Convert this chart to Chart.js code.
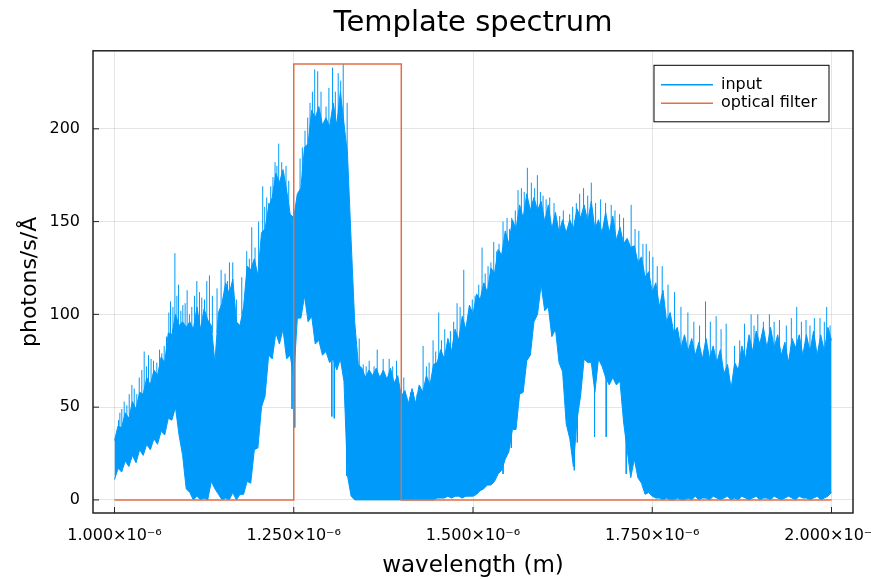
<!DOCTYPE html>
<html lang="en">
<head>
<meta charset="UTF-8">
<title>Template spectrum</title>
<script src="https://cdn.jsdelivr.net/npm/chart.js"></script>
<style>
  html, body { margin: 0; padding: 0; background: #fff; }
  canvas { display: block; }
</style>
</head>
<body>
<canvas id="spectrumChart" width="871" height="579"></canvas>
<script>
// wavelength grid of the spectrum, in units of 1e-6 m
const waveStart = 1.0;
const waveStep = 0.005;

// dense body of the noisy input spectrum: top and bottom edge (photons/s/Å)
const inputUpper = [
  32, 40, 39, 47, 44, 53, 49, 58, 57, 66,
  62, 70, 67, 77, 74, 90, 89, 100, 94, 96,
  93, 96, 92, 104, 92, 103, 97, 94, 74, 101,
  106, 117, 111, 119, 96, 94, 104, 126, 124, 130,
  121, 144, 146, 158, 163, 176, 171, 178, 167, 154,
  152, 165, 168, 190, 192, 210, 206, 212, 202, 206,
  201, 214, 202, 220, 203, 186, 140, 96, 73, 71,
  66, 70, 67, 71, 66, 70, 65, 71, 63, 67,
  56, 59, 52, 60, 52, 62, 58, 67, 62, 73,
  74, 81, 76, 87, 80, 92, 86, 99, 92, 105,
  100, 111, 108, 117, 112, 125, 122, 135, 132, 145,
  138, 151, 146, 159, 152, 165, 156, 163, 156, 161,
  150, 159, 146, 155, 144, 151, 144, 151, 146, 157,
  152, 159, 150, 161, 146, 151, 144, 155, 144, 153,
  140, 147, 138, 141, 136, 137, 128, 131, 120, 123,
  112, 117, 104, 113, 96, 101, 90, 93, 82, 89,
  80, 87, 78, 85, 76, 87, 76, 83, 74, 81,
  68, 73, 60, 74, 70, 83, 76, 89, 80, 91,
  84, 93, 82, 93, 82, 89, 78, 85, 74, 87,
  82, 89, 78, 89, 80, 91, 78, 89, 80, 93,
  86
];
const inputLower = [
  11, 17, 15, 21, 18, 24, 20, 27, 24, 30,
  27, 33, 30, 37, 35, 44, 43, 50, 35, 24,
  6, 4, 0, 2, 0, 1, 0, 10, 6, 3,
  0, 1, 0, 4, 0, 3, 3, 10, 9, 27,
  28, 50, 56, 78, 76, 90, 84, 92, 76, 78,
  66, 98, 98, 110, 96, 99, 84, 86, 78, 80,
  74, 76, 70, 76, 64, 13, 2, 0, 0, 0,
  0, 0, 0, 0, 0, 0, 0, 0, 0, 0,
  0, 0, 0, 0, 0, 0, 0, 0, 0, 0,
  1, 1, 1, 2, 1, 2, 2, 1, 2, 2,
  2, 3, 5, 6, 8, 8, 10, 14, 16, 22,
  26, 38, 38, 57, 58, 75, 78, 96, 100, 116,
  102, 104, 88, 92, 74, 69, 41, 33, 18, 43,
  56, 76, 74, 74, 58, 76, 72, 66, 62, 66,
  62, 64, 42, 27, 12, 22, 12, 9, 3, 4,
  2, 1, 1, 0, 1, 0, 0, 1, 0, 0,
  1, 0, 2, 0, 1, 1, 0, 2, 1, 0,
  1, 2, 0, 1, 0, 2, 1, 0, 1, 2,
  0, 1, 1, 0, 2, 1, 0, 1, 2, 1,
  0, 2, 1, 1, 0, 1, 2, 0, 1, 2,
  4
];

// narrow spikes of the input that stick out of the body: wavelength, start, end
const spikeWave = [
  1.0056, 1.0102, 1.0172, 1.0242, 1.0311, 1.0381, 1.0414, 1.0474, 1.0544, 1.0628,
  1.0693, 1.0758, 1.0781, 1.0842, 1.0893, 1.0953, 1.1013, 1.1078, 1.1148, 1.1217,
  1.1287, 1.1324, 1.1487, 1.1542, 1.1603, 1.1649, 1.1844, 1.1914, 1.1960, 1.2067,
  1.2123, 1.2179, 1.2239, 1.2290, 1.2332, 1.2392, 1.2588, 1.2657, 1.2727, 1.2792,
  1.2834, 1.2950, 1.3041, 1.3120, 1.3190, 1.3245, 1.3413, 1.3469, 1.3552, 1.3664,
  1.3747, 1.3831, 1.3933, 1.4035, 1.4128, 1.4220, 1.4304, 1.4388, 1.4443, 1.4522,
  1.4606, 1.4685, 1.4778, 1.4871, 1.4945, 1.5029, 1.5126, 1.5210, 1.5289, 1.5363,
  1.5419, 1.5475, 1.5540, 1.5628, 1.5675, 1.5758, 1.5814, 1.5898, 1.5977, 1.6070,
  1.6209, 1.6348, 1.6441, 1.6488, 1.6542, 1.6650, 1.6710, 1.6849, 1.6928, 1.7044,
  1.7206, 1.7313, 1.7416, 1.7509, 1.7639, 1.7811, 1.7997, 1.8243, 1.8391, 1.8531,
  1.8647, 1.8786, 1.8879, 1.8972, 1.9134, 1.9274, 1.9515, 1.9645, 1.9761, 1.9933,
  1.9980,
  1.0075, 1.0135, 1.0205, 1.0275, 1.0345, 1.0445, 1.0510, 1.0590, 1.0660, 1.0725,
  1.0815, 1.0870, 1.0925, 1.0985, 1.1045, 1.1115, 1.1185, 1.1255, 1.1365, 1.1430,
  1.1575, 1.1700, 1.1775, 1.1880, 1.2010, 1.2095, 1.2150, 1.2210, 1.2265, 1.2360,
  1.2430, 1.2620, 1.2695, 1.2760, 1.2880, 1.2990, 1.3080, 1.3155, 1.3510, 1.3620,
  1.3880, 1.4170, 1.4350, 1.4480, 1.4560, 1.4730, 1.4820, 1.4990, 1.5080, 1.5170,
  1.5250, 1.5330, 1.5510, 1.5590, 1.5715, 1.5860, 1.5940, 1.6020, 1.6130, 1.6260,
  1.6390, 1.6600, 1.6780, 1.6980, 1.7100, 1.7260, 1.7370, 1.7460, 1.7570, 1.7720,
  1.7900, 1.8080, 1.8160, 1.8310, 1.8460, 1.8720, 1.8920, 1.9050, 1.9200, 1.9370,
  1.9440, 1.9580, 1.9700, 1.9840, 1.9900,
  1.2476, 1.2514, 1.3031, 1.3065, 1.3236, 1.5419, 1.5535, 1.6367, 1.6413, 1.6455,
  1.6695, 1.6858, 1.7137
];
const spikeFrom = [
  36, 38, 42, 44, 48, 52, 54, 58, 60, 64,
  66, 76, 80, 86, 88, 86, 86, 86, 90, 88,
  90, 90, 100, 104, 104, 104, 112, 118, 118, 130,
  140, 142, 150, 156, 156, 154, 150, 170, 180, 195,
  195, 195, 195, 195, 195, 185, 66, 62, 62, 60,
  60, 60, 60, 55, 50, 50, 55, 58, 60, 66,
  72, 76, 80, 84, 88, 94, 100, 104, 110, 114,
  120, 124, 130, 140, 142, 146, 150, 150, 148, 148,
  142, 140, 140, 142, 144, 146, 146, 140, 140, 136,
  130, 120, 116, 110, 102, 88, 78, 72, 72, 66,
  60, 68, 72, 74, 74, 74, 74, 74, 74, 74,
  74,
  40, 42, 46, 50, 54, 60, 62, 64, 68, 74,
  86, 90, 88, 88, 86, 90, 90, 92, 90, 90,
  106, 92, 100, 118, 126, 140, 146, 152, 160, 160,
  150, 172, 186, 196, 200, 200, 200, 200, 62, 60,
  60, 50, 58, 62, 70, 80, 84, 92, 98, 104,
  108, 114, 126, 136, 144, 150, 150, 148, 146, 140,
  140, 146, 146, 140, 134, 126, 118, 114, 106, 96,
  84, 76, 74, 72, 70, 64, 72, 74, 74, 74,
  74, 74, 74, 74, 74,
  90, 100, 90, 90, 80, 40, 45, 70, 60, 60,
  70, 70, 50
];
const spikeTo = [
  43, 49, 51, 62, 57, 70, 80, 78, 75, 81,
  83, 101, 107, 133, 116, 105, 113, 104, 118, 109,
  118, 121, 124, 122, 128, 128, 134, 147, 136, 169,
  163, 169, 182, 192, 182, 180, 184, 199, 214, 232,
  231, 212, 233, 230, 235, 214, 87, 73, 75, 81,
  76, 76, 75, 66, 58, 57, 83, 74, 86, 101,
  92, 91, 106, 124, 95, 110, 136, 126, 139, 138,
  150, 152, 152, 167, 168, 179, 171, 175, 164, 163,
  153, 154, 160, 165, 168, 171, 160, 160, 159, 154,
  159, 145, 138, 131, 126, 112, 101, 107, 99, 95,
  83, 95, 100, 100, 100, 97, 104, 97, 98, 104,
  94,
  47, 53, 57, 60, 66, 72, 76, 74, 79, 88,
  104, 110, 102, 106, 100, 110, 112, 108, 110, 114,
  118, 108, 120, 130, 150, 158, 160, 174, 180, 176,
  172, 190, 206, 220, 220, 222, 220, 226, 72, 72,
  72, 58, 72, 80, 86, 96, 104, 108, 116, 122,
  128, 134, 146, 156, 166, 168, 166, 162, 160, 156,
  158, 164, 162, 156, 152, 146, 138, 134, 126, 116,
  104, 96, 94, 96, 92, 86, 94, 96, 96, 94,
  98, 96, 94, 98, 96,
  49, 39, 45, 44, 13, 14, 28, 32, 16, 31,
  34, 34, 14
];

// top-hat optical filter
const filterWave = [1.0, 1.25, 1.25, 1.4, 1.4, 2.0];
const filterValue = [0, 0, 235, 235, 0, 0];

const xTicks = [1.0, 1.25, 1.5, 1.75, 2.0];
const yTicks = [0, 50, 100, 150, 200];

const blue = '#009AFA';
const orange = '#E36F47';
const fontFamily = '"DejaVu Sans", sans-serif';

const wavelength = inputUpper.map((_, i) => +(waveStart + i * waveStep).toFixed(3));

// each spike is its own short segment, separated by a gap
const spikePoints = spikeWave.flatMap((x, i) => [
    { x, y: spikeFrom[i] },
    { x, y: spikeTo[i] },
    { x, y: null }
]);

// box around the plot, inward tick marks and the legend inside the plot
const framePlugin = {
    id: 'frame',
    afterDatasetsDraw(chart) {
        const { ctx, chartArea: a, scales } = chart;
        ctx.save();
        ctx.strokeStyle = '#222';
        ctx.lineWidth = 1.5;
        ctx.strokeRect(a.left, a.top, a.right - a.left, a.bottom - a.top);

        ctx.lineWidth = 1;
        ctx.beginPath();
        xTicks.forEach(v => {
            const x = scales.x.getPixelForValue(v);
            ctx.moveTo(x, a.bottom);
            ctx.lineTo(x, a.bottom - 6);
        });
        yTicks.forEach(v => {
            const y = scales.y.getPixelForValue(v);
            ctx.moveTo(a.left, y);
            ctx.lineTo(a.left + 6, y);
        });
        ctx.stroke();

        const items = chart.data.datasets.filter(d => d.label);
        ctx.font = '16px ' + fontFamily;
        const textW = Math.max(...items.map(d => ctx.measureText(d.label).width));
        const w = 7 + 52 + 8 + textW + 12;
        const h = 56.5;
        const x0 = a.right - 24 - w;
        const y0 = a.top + 14.5;
        ctx.fillStyle = '#fff';
        ctx.fillRect(x0, y0, w, h);
        ctx.strokeStyle = '#000';
        ctx.lineWidth = 1;
        ctx.strokeRect(x0, y0, w, h);
        items.forEach((d, k) => {
            const y = y0 + 19.5 + k * 18.4;
            ctx.strokeStyle = d.borderColor;
            ctx.lineWidth = 1.5;
            ctx.beginPath();
            ctx.moveTo(x0 + 7, y);
            ctx.lineTo(x0 + 59, y);
            ctx.stroke();
            ctx.fillStyle = '#000';
            ctx.textBaseline = 'middle';
            ctx.textAlign = 'left';
            ctx.fillText(d.label, x0 + 67, y);
        });
        ctx.restore();
    }
};

new Chart(document.getElementById('spectrumChart'), {
    type: 'line',
    data: {
        datasets: [
            {
                label: 'input',
                data: wavelength.map((x, i) => ({ x, y: inputUpper[i] })),
                borderColor: blue,
                backgroundColor: blue,
                borderWidth: 1,
                pointRadius: 0,
                fill: '+1',
                order: 2
            },
            {
                data: wavelength.map((x, i) => ({ x, y: inputLower[i] })),
                borderColor: blue,
                borderWidth: 1,
                pointRadius: 0,
                fill: false,
                order: 3
            },
            {
                data: spikePoints,
                borderColor: blue,
                borderWidth: 1,
                pointRadius: 0,
                fill: false,
                spanGaps: false,
                order: 2
            },
            {
                label: 'optical filter',
                data: filterWave.map((x, i) => ({ x, y: filterValue[i] })),
                borderColor: orange,
                borderWidth: 1.5,
                pointRadius: 0,
                fill: false,
                order: 1
            }
        ]
    },
    options: {
        responsive: false,
        animation: false,
        layout: { padding: { left: 0, right: 18, top: 0, bottom: 0 } },
        plugins: {
            legend: { display: false },
            tooltip: { enabled: false },
            title: {
                display: true,
                text: 'Template spectrum',
                fullSize: false,
                color: '#000',
                font: { family: fontFamily, size: 29, weight: 'normal' },
                padding: { top: 6.5, bottom: 9.5 }
            }
        },
        scales: {
            x: {
                type: 'linear',
                min: 0.97,
                max: 2.03,
                afterBuildTicks: s => { s.ticks = xTicks.map(v => ({ value: v })); },
                afterFit: s => { s.height = 66; s.paddingLeft = 0; s.paddingRight = 0; },
                grid: { color: 'rgba(0,0,0,0.1)', drawTicks: false },
                border: { display: false },
                ticks: {
                    padding: 13,
                    color: '#000',
                    maxRotation: 0,
                    autoSkip: false,
                    font: { family: fontFamily, size: 16 },
                    callback: v => v.toFixed(3) + '×10⁻⁶'
                },
                title: {
                    display: true,
                    text: 'wavelength (m)',
                    color: '#000',
                    font: { family: fontFamily, size: 23, lineHeight: 1.1 },
                    padding: { top: 0, bottom: 0 }
                }
            },
            y: {
                min: -7.05,
                max: 242.05,
                afterBuildTicks: s => { s.ticks = yTicks.map(v => ({ value: v })); },
                afterFit: s => { s.width = 93; s.paddingTop = 0; s.paddingBottom = 0; },
                grid: { color: 'rgba(0,0,0,0.1)', drawTicks: false },
                border: { display: false },
                ticks: {
                    padding: 13,
                    color: '#000',
                    font: { family: fontFamily, size: 16 }
                },
                title: {
                    display: true,
                    text: 'photons/s/Å',
                    color: '#000',
                    font: { family: fontFamily, size: 22, lineHeight: 1.1 },
                    padding: { top: 18, bottom: 0 }
                }
            }
        }
    },
    plugins: [framePlugin]
});
</script>
</body>
</html>
